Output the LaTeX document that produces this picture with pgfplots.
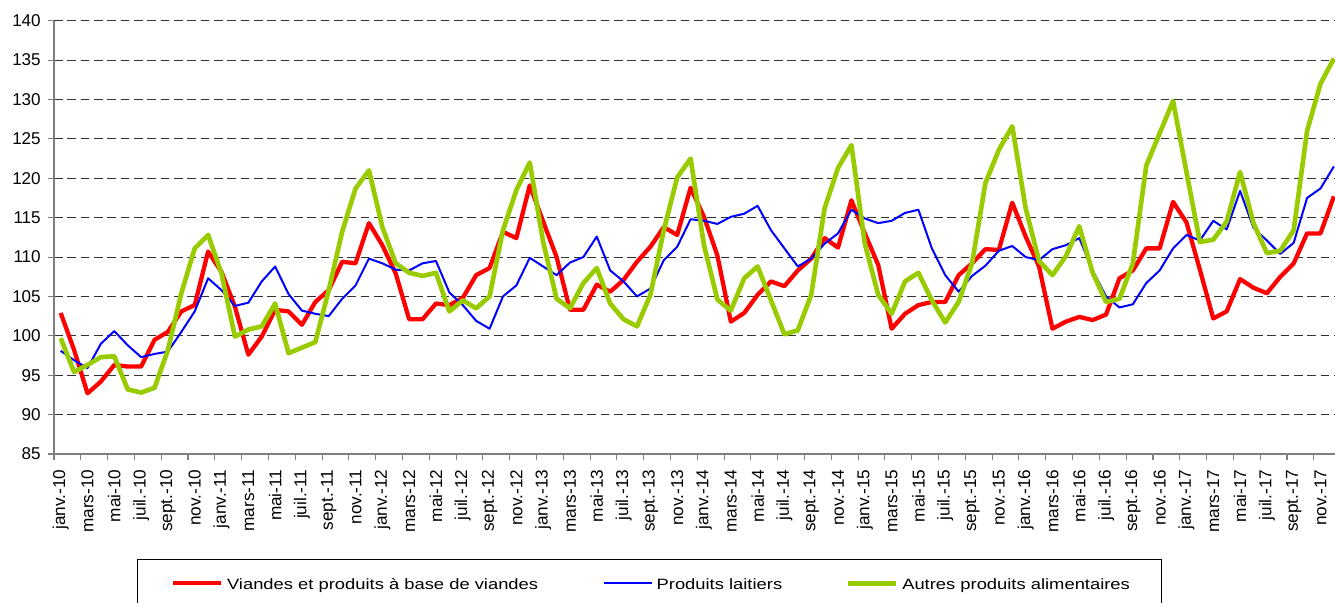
\documentclass[border=0pt]{standalone}
\usepackage{fontspec}
\setmainfont{Liberation Sans}
\usepackage{pgfplots}
\pgfplotsset{compat=1.18}
\definecolor{cred}{RGB}{255,0,0}
\definecolor{cblue}{RGB}{0,0,255}
\definecolor{cgreen}{RGB}{153,204,0}
\begin{document}
\begin{tikzpicture}
\begin{axis}[
  at={(0,0)}, anchor=south west,
  scale only axis, width=964.95pt, height=325pt,
  xmin=-0.5, xmax=95.5, ymin=85, ymax=140,
  axis x line*=bottom, axis y line*=left,
  axis line style={draw=black!50, line width=1pt},
  tick align=outside,
  major tick length=4.5pt,
  tick style={black!50, line width=0.8pt},
  ytick={85,90,...,140},
  ymajorgrids,
  major grid style={black!80, line width=0.75pt, dash pattern=on 6.5pt off 3.5pt},
  xtick={-0.5,1.5,...,95.5},
  xticklabels={},
  extra x ticks={0,2,...,94},
  extra x tick labels={janv.-10,mars-10,mai-10,juil.-10,sept.-10,nov.-10,
    janv.-11,mars-11,mai-11,juil.-11,sept.-11,nov.-11,
    janv.-12,mars-12,mai-12,juil.-12,sept.-12,nov.-12,
    janv.-13,mars-13,mai-13,juil.-13,sept.-13,nov.-13,
    janv.-14,mars-14,mai-14,juil.-14,sept.-14,nov.-14,
    janv.-15,mars-15,mai-15,juil.-15,sept.-15,nov.-15,
    janv.-16,mars-16,mai-16,juil.-16,sept.-16,nov.-16,
    janv.-17,mars-17,mai-17,juil.-17,sept.-17,nov.-17},
  extra x tick style={major tick length=0pt},
  /pgf/number format/assume math mode=true,
  yticklabel style={font=\fontsize{12.8}{14}\selectfont, inner sep=0pt, anchor=east},
  yticklabel shift=5.25pt,
  xticklabel style={font=\fontsize{12.9}{14}\selectfont, rotate=90, anchor=east, inner sep=0pt},
  xticklabel shift=11.5pt,
  legend columns=3,
  legend image code/.code={\draw[#1] (0pt,2pt) -- (36pt,2pt);},
  legend style={at={(0.0649,-0.2423)}, anchor=north west, draw=black, line width=0.75pt,
    inner xsep=25pt, inner ysep=14.4pt, column sep=0pt,
    nodes={inner sep=0pt, text height=8.4pt, text depth=2.4pt, font=\fontsize{11.2}{13}\selectfont},
    cells={anchor=center}},
]
\addplot[cred, line width=3.2pt, line join=round] coordinates {
(0,102.9) (1,98.2) (2,92.7) (3,94.2) (4,96.3) (5,96.1) (6,96.1) (7,99.5) (8,100.5) (9,103.1)
(10,103.9) (11,110.7) (12,108.1) (13,103.7) (14,97.6) (15,99.9) (16,103.3) (17,103.1) (18,101.4) (19,104.3)
(20,105.8) (21,109.4) (22,109.2) (23,114.3) (24,111.5) (25,107.9) (26,102.1) (27,102.1) (28,104.1) (29,103.9)
(30,104.8) (31,107.7) (32,108.6) (33,113.2) (34,112.4) (35,119.1) (36,114.5) (37,110.0) (38,103.3) (39,103.3)
(40,106.5) (41,105.6) (42,107.1) (43,109.4) (44,111.3) (45,113.8) (46,112.8) (47,118.8) (48,115.1) (49,110.2)
(50,101.8) (51,102.9) (52,105.2) (53,106.9) (54,106.3) (55,108.3) (56,109.8) (57,112.4) (58,111.2) (59,117.2)
(60,113.0) (61,109.0) (62,100.9) (63,102.8) (64,103.9) (65,104.3) (66,104.3) (67,107.7) (68,109.2) (69,111.0)
(70,110.9) (71,116.9) (72,112.6) (73,108.8) (74,100.9) (75,101.8) (76,102.4) (77,102.0) (78,102.7) (79,107.3)
(80,108.3) (81,111.1) (82,111.1) (83,117.0) (84,114.4) (85,108.4) (86,102.2) (87,103.1) (88,107.2) (89,106.1)
(90,105.4) (91,107.5) (92,109.2) (93,113.0) (94,113.0) (95,117.7)
};
\addlegendentry{\makebox[284.7pt][l]{\hspace{2.6pt}\scalebox{1.23}[1]{Viandes et produits à base de viandes}}}
\addplot[cblue, line width=1.5pt, line join=round] coordinates {
(0,98.1) (1,96.9) (2,95.9) (3,99.0) (4,100.6) (5,98.8) (6,97.3) (7,97.7) (8,98.0) (9,100.5)
(10,103.1) (11,107.3) (12,105.8) (13,103.8) (14,104.2) (15,106.9) (16,108.8) (17,105.3) (18,103.2) (19,102.8)
(20,102.5) (21,104.7) (22,106.4) (23,109.8) (24,109.2) (25,108.4) (26,108.3) (27,109.2) (28,109.5) (29,105.5)
(30,103.9) (31,101.9) (32,100.9) (33,105.0) (34,106.4) (35,109.9) (36,108.8) (37,107.7) (38,109.3) (39,110.0)
(40,112.6) (41,108.3) (42,106.9) (43,105.0) (44,106.0) (45,109.6) (46,111.3) (47,114.8) (48,114.6) (49,114.2)
(50,115.1) (51,115.5) (52,116.5) (53,113.4) (54,111.1) (55,108.8) (56,109.8) (57,111.7) (58,113.0) (59,116.0)
(60,114.9) (61,114.3) (62,114.6) (63,115.6) (64,116.0) (65,111.1) (66,107.7) (67,105.6) (68,107.6) (69,108.9)
(70,110.8) (71,111.4) (72,110.0) (73,109.6) (74,111.0) (75,111.5) (76,112.4) (77,108.3) (78,105.0) (79,103.6)
(80,104.0) (81,106.7) (82,108.3) (83,111.1) (84,112.8) (85,112.1) (86,114.6) (87,113.5) (88,118.4) (89,113.7)
(90,112.1) (91,110.4) (92,111.8) (93,117.5) (94,118.7) (95,121.5)
};
\addlegendentry{\makebox[144.7pt][l]{\hspace{2.6pt}\scalebox{1.23}[1]{Produits laitiers}}}
\addplot[cgreen, line width=3.5pt, line join=round] coordinates {
(0,99.7) (1,95.4) (2,96.3) (3,97.3) (4,97.4) (5,93.2) (6,92.8) (7,93.4) (8,98.2) (9,105.4)
(10,111.1) (11,112.8) (12,107.9) (13,99.9) (14,100.8) (15,101.2) (16,104.1) (17,97.8) (18,98.5) (19,99.2)
(20,105.8) (21,113.2) (22,118.7) (23,121.0) (24,113.8) (25,109.2) (26,108.0) (27,107.6) (28,108.0) (29,103.1)
(30,104.5) (31,103.5) (32,105.0) (33,113.4) (34,118.5) (35,122.0) (36,111.9) (37,104.7) (38,103.5) (39,106.7)
(40,108.6) (41,104.1) (42,102.1) (43,101.2) (44,105.2) (45,113.4) (46,120.1) (47,122.5) (48,111.5) (49,104.6)
(50,103.2) (51,107.3) (52,108.8) (53,104.5) (54,100.2) (55,100.7) (56,105.2) (57,116.2) (58,121.3) (59,124.2)
(60,111.7) (61,105.2) (62,102.8) (63,106.9) (64,108.0) (65,104.5) (66,101.7) (67,104.3) (68,109.2) (69,119.4)
(70,123.6) (71,126.6) (72,116.2) (73,109.5) (74,107.7) (75,110.1) (76,113.9) (77,108.0) (78,104.3) (79,104.7)
(80,109.2) (81,121.6) (82,125.7) (83,129.8) (84,120.8) (85,111.9) (86,112.2) (87,114.5) (88,120.8) (89,114.3)
(90,110.5) (91,110.8) (92,113.4) (93,126.0) (94,132.0) (95,135.2)
};
\addlegendentry{\makebox[172.2pt][l]{\hspace{2.6pt}\scalebox{1.23}[1]{Autres produits alimentaires}}}
\end{axis}
\pgfresetboundingbox
\path[use as bounding box] (-40.5pt,-111.75pt) rectangle (960.75pt,340.5pt);
\end{tikzpicture}
\end{document}
